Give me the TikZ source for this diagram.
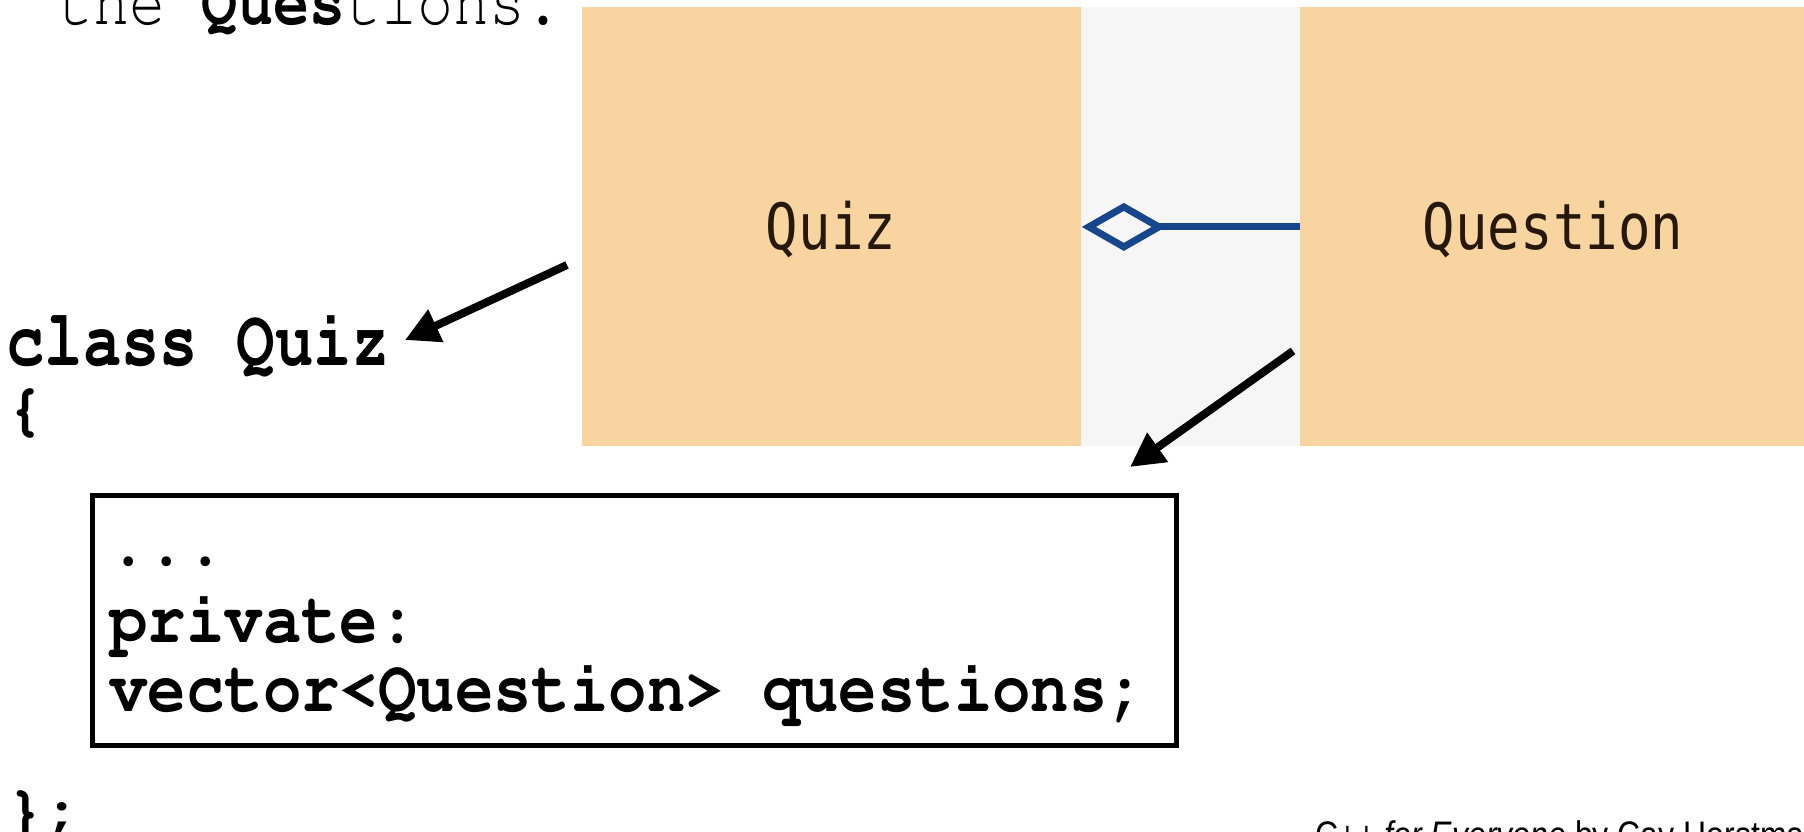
\documentclass[tikz,border=0pt]{standalone}
\usepackage[T1]{fontenc}
\usepackage{fontspec}
\usepackage{graphicx}
\setmainfont{Liberation Sans}
\newfontfamily\umlfont{DejaVu Sans Mono}
\usetikzlibrary{arrows.meta,fit}
\newcommand{\cbold}{\fontencoding{T1}\fontfamily{pcr}\fontseries{b}\fontshape{n}\selectfont}
\newcommand{\creg}{\fontencoding{T1}\fontfamily{pcr}\fontseries{m}\fontshape{n}\selectfont}
\definecolor{panelorange}{RGB}{247,212,160}
\definecolor{gapgray}{RGB}{246,246,247}
\definecolor{umlblue}{RGB}{24,70,140}
\definecolor{umltext}{RGB}{38,24,10}
\begin{document}
\begin{tikzpicture}[x=0.5pt,y=-0.5pt,
  code/.style={inner sep=0pt, anchor=base west, font=\cbold\fontsize{32}{35}\selectfont},
  panelbox/.style={fill=panelorange, draw=none, inner sep=0pt, anchor=north west, minimum height=219.5pt},
  umllabel/.style={inner sep=0pt, anchor=base, text=umltext, font=\umlfont\fontsize{27}{30}\selectfont},
  pointer/.style={draw=black, line width=4pt, -{Triangle[length=17pt,width=17pt]}},
  aggr/.style={draw=umlblue, line width=3.5pt, -{Diamond[open,length=42pt,width=24pt]}},
  codeframe/.style={draw=black, line width=2.5pt, inner sep=0pt}]
\useasboundingbox (0,0) rectangle (1804,831);
\clip (0,0) rectangle (1804,831);
\fill[white] (0,0) rectangle (1804,831);

% top line (cut off)
\node[code, font=\creg\fontsize{30}{33}\selectfont] (topline) at (57,24)
  {\scalebox{1}[1.2]{the {\cbold Ques}tions.}};

% UML picture
\fill[gapgray] (1081,7) rectangle (1300,446);
\node[panelbox, minimum width=249.5pt] (quizpanel) at (582,7) {};
\node[panelbox, minimum width=255pt] (questpanel) at (1300,7) {};
\node[umllabel] (quizlbl) at (831,249) {\scalebox{1}[1.18]{Quiz}};
\node[umllabel] (questlbl) at (1553,249) {\scalebox{1}[1.18]{Question}};
\draw[aggr] (questpanel.west) -- (quizpanel.east);

% code
\node[code] (classline) at (6,365) {\scalebox{1}[1.25]{class Quiz}};
\node[code] (openbrace) at (6,428) {\{};
\coordinate (cbtl) at (92.5,495);
\coordinate (cbbr) at (1176.5,745);
\node[codeframe, fit=(cbtl)(cbbr)] (codebox) {};
\node[code] (dots) at (109,565) {\scalebox{1}[1.15]{...}};
\node[code] (privline) at (109,642) {\scalebox{1}[1.15]{private:}};
\node[code] (vecline) at (109,711) {\scalebox{1}[1.15]{vector<Question> questions;}};
\node[code] (closebrace) at (6,830) {\};};

% pointers
\coordinate (p1tail) at (567,265);
\coordinate (p1tip) at (405,340);
\coordinate (p2tail) at (1293,351);
\coordinate (p2tip) at (1130,467);
\draw[pointer] (p1tail) -- (p1tip);
\draw[pointer] (p2tail) -- (p2tip);

% credit line (cut off)
\node[inner sep=0pt, anchor=base west, font=\fontsize{16}{19}\selectfont] (credit) at (1315,848)
  {\scalebox{1}[1.2]{C++ \textit{for Everyone} by Cay Horstmann}};
\end{tikzpicture}
\end{document}
